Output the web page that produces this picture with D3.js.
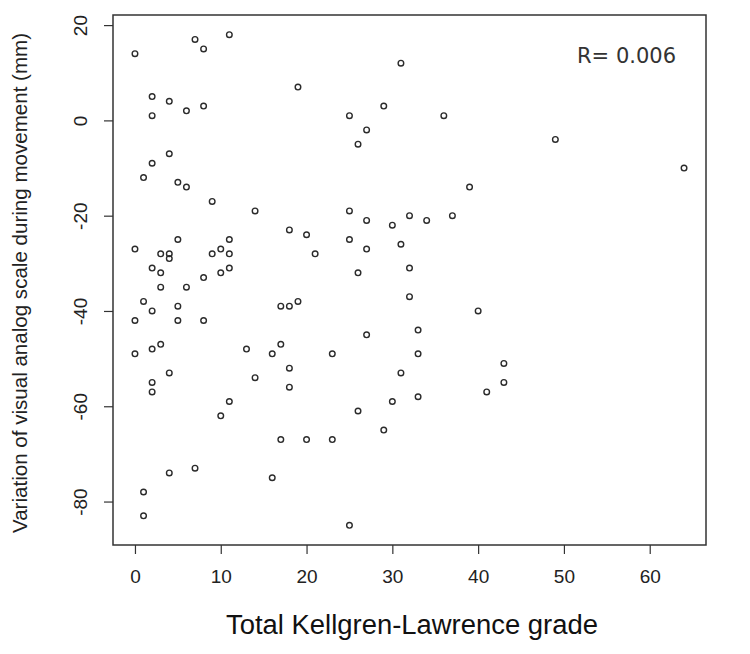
<!DOCTYPE html>
<html>
<head>
<meta charset="utf-8">
<script src="https://cdn.jsdelivr.net/npm/d3@7"></script>
<style>
  body { margin: 0; background: #fff; }
  svg { display: block; }
</style>
</head>
<body>
<script>
// values
var klGrade = [0, 7, 8, 11, 19, 2, 4, 6, 8, 2, 4, 2, 1, 5, 6, 9, 14, 18, 20, 21,
  5, 0, 3, 4, 4, 9, 10, 11, 11, 2, 3, 10, 11, 8, 3, 6, 1, 2, 5, 17,
  18, 19, 0, 5, 8, 0, 2, 3, 13, 16, 17, 18, 2, 2, 4, 14, 18, 10, 11, 17,
  20, 4, 7, 16, 1, 1, 31, 25, 29, 27, 26, 36, 39, 49, 64, 25, 27, 30, 32, 34,
  37, 25, 27, 31, 26, 32, 32, 40, 27, 33, 23, 33, 43, 43, 41, 31, 26, 30, 33, 29,
  23, 25];
var vasChange = [14, 17, 15, 18, 7, 5, 4, 2, 3, 1, -7, -9, -12, -13, -14, -17, -19, -23, -24, -28,
  -25, -27, -28, -28, -29, -28, -27, -25, -28, -31, -32, -32, -31, -33, -35, -35, -38, -40, -39, -39,
  -39, -38, -42, -42, -42, -49, -48, -47, -48, -49, -47, -52, -55, -57, -53, -54, -56, -62, -59, -67,
  -67, -74, -73, -75, -78, -83, 12, 1, 3, -2, -5, 1, -14, -4, -10, -19, -21, -22, -20, -21,
  -20, -25, -27, -26, -32, -31, -37, -40, -45, -44, -49, -49, -51, -55, -57, -53, -61, -59, -58, -65,
  -67, -85];
var xTicks = [0, 10, 20, 30, 40, 50, 60];
var yTicks = [-80, -60, -40, -20, 0, 20];
var rText = "R= 0.006";

var w = 750;
var h = 654;
var plotL = 113, plotR = 706, plotT = 15, plotB = 545;

var svg = d3.select("body").append("svg")
  .attr("width", w)
  .attr("height", h);

// R style limits: data range plus 4% each side
var xExt = d3.extent(klGrade), yExt = d3.extent(vasChange);
var xPad = (xExt[1] - xExt[0]) * 0.04, yPad = (yExt[1] - yExt[0]) * 0.04;

var x = d3.scaleLinear()
  .domain([xExt[0] - xPad, xExt[1] + xPad])
  .range([plotL, plotR]);
var y = d3.scaleLinear()
  .domain([yExt[0] - yPad, yExt[1] + yPad])
  .range([plotB, plotT]);

var tickFont = "'Liberation Sans Narrow', 'Liberation Sans', Arial, sans-serif";
// plain hyphen for negatives, like R
var plain = function(d) { return String(d); };

// x axis
var xAxis = svg.append("g")
  .attr("transform", "translate(0," + plotB + ")")
  .call(d3.axisBottom(x).tickValues(xTicks).tickFormat(plain)
    .tickSize(9).tickSizeOuter(0).tickPadding(16));
xAxis.select(".domain").remove();
xAxis.selectAll("line").attr("stroke", "#333").attr("stroke-width", 1.2);
xAxis.selectAll("text")
  .style("font-family", tickFont)
  .style("font-size", "19px")
  .attr("fill", "#222");

// y axis, labels turned like R's las=0
var yAxis = svg.append("g")
  .attr("transform", "translate(" + plotL + ",0)")
  .call(d3.axisLeft(y).tickValues(yTicks).tickFormat(plain)
    .tickSize(9).tickSizeOuter(0));
yAxis.select(".domain").remove();
yAxis.selectAll("line").attr("stroke", "#333").attr("stroke-width", 1.2);
yAxis.selectAll("text")
  .attr("x", null)
  .attr("text-anchor", "middle")
  .attr("transform", "translate(-33,0) rotate(-90)")
  .attr("dy", "0.35em")
  .style("font-family", tickFont)
  .style("font-size", "19px")
  .attr("fill", "#222");

// frame
svg.append("rect")
  .attr("x", plotL)
  .attr("y", plotT)
  .attr("width", plotR - plotL)
  .attr("height", plotB - plotT)
  .attr("fill", "none")
  .attr("stroke", "#333")
  .attr("stroke-width", 1.5);

// points
svg.selectAll("circle.pt")
  .data(klGrade)
  .enter()
  .append("circle")
  .attr("class", "pt")
  .attr("cx", function(d) { return x(d); })
  .attr("cy", function(d, i) { return y(vasChange[i]); })
  .attr("r", 2.8)
  .attr("fill", "none")
  .attr("stroke", "#2b2b2b")
  .attr("stroke-width", 1.4);

// titles
svg.append("text")
  .attr("x", 412)
  .attr("y", 634)
  .attr("text-anchor", "middle")
  .attr("textLength", 372)
  .attr("lengthAdjust", "spacingAndGlyphs")
  .style("font-family", "'Liberation Sans', Arial, sans-serif")
  .style("font-size", "27px")
  .attr("fill", "#111")
  .text("Total Kellgren-Lawrence grade");

svg.append("text")
  .attr("transform", "translate(27,283) rotate(-90)")
  .attr("text-anchor", "middle")
  .attr("textLength", 500)
  .attr("lengthAdjust", "spacingAndGlyphs")
  .style("font-family", "'Liberation Sans', Arial, sans-serif")
  .style("font-size", "20px")
  .attr("fill", "#222")
  .text("Variation of visual analog scale during movement (mm)");

svg.append("text")
  .attr("x", 676)
  .attr("y", 63)
  .attr("text-anchor", "end")
  .style("font-family", "'DejaVu Sans', sans-serif")
  .style("font-size", "21px")
  .attr("fill", "#333")
  .text(rText);
</script>
</body>
</html>
